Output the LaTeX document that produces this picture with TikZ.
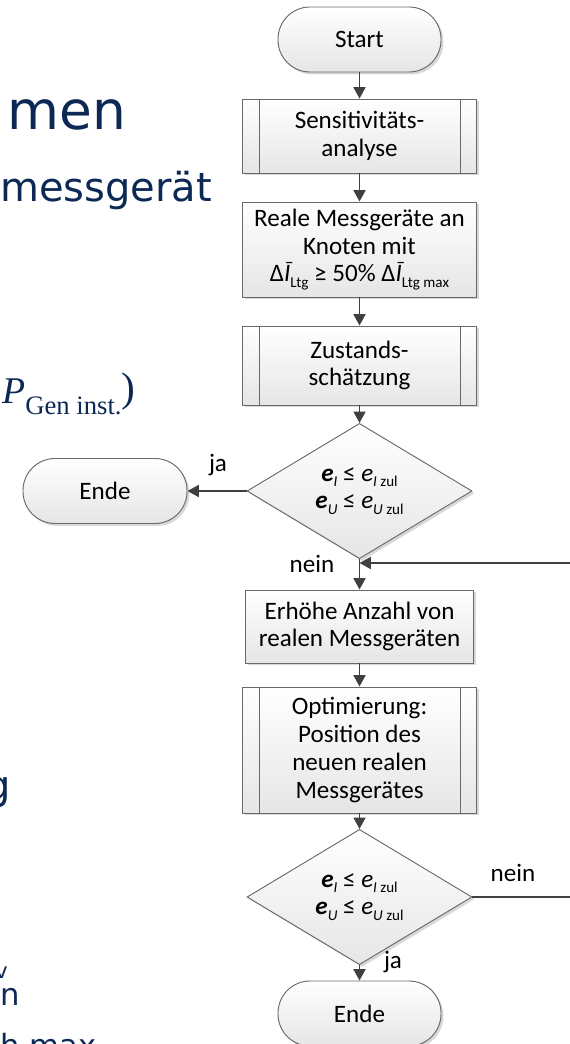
\documentclass[tikz,border=0pt]{standalone}
\usepackage{fontspec}
\setmainfont{Carlito}
\newfontfamily\slidefont{DejaVu Sans}
\newfontfamily\formulafont{Liberation Serif}
\usetikzlibrary{arrows.meta,shapes.geometric,shadows}
\definecolor{navy}{RGB}{12,40,84}
\definecolor{edge}{RGB}{105,105,105}
\definecolor{flow}{RGB}{64,64,64}
% lowered, smaller index text
\newcommand\lo[1]{\raisebox{-0.22em}{\fontsize{11.3}{11.3}\selectfont #1}}
\newcommand\ibar{{\itshape Ī}}

\begin{document}
\begin{tikzpicture}[x=0.75pt,y=-0.75pt,
  base/.style={draw=edge, line width=0.7pt, top color=white, bottom color=black!10,
    drop shadow={shadow xshift=1.8pt,shadow yshift=-1.8pt,fill=black!30,opacity=0.5},
    align=center, font=\fontsize{18.8}{20.8}\selectfont, inner sep=0pt},
  term/.style={base, rectangle, rounded corners=24pt, minimum width=122.25pt, minimum height=48.75pt},
  proc/.style={base, rectangle, minimum width=175.5pt},
  decide/.style={base, diamond, minimum width=168.75pt},
  flowline/.style={draw=flow, line width=1.3pt},
  arrow/.style={flowline, -{Triangle[length=8.5pt,width=9pt]}},
  lbl/.style={font=\fontsize{18.8}{20.8}\selectfont, inner sep=0pt},
  slide/.style={text=navy, inner sep=0pt},
]
\useasboundingbox (0,0) rectangle (569,1044);

% fragments of slide text on the left
\node[slide, anchor=base west, font=\slidefont\fontsize{40}{40}\selectfont] (t1) at (7,130) {men};
\node[slide, anchor=base west, font=\slidefont\fontsize{30}{30}\selectfont] (t2) at (0,202) {messgerät};
\node[slide, anchor=base west, font=\formulafont\fontsize{28.3}{28.3}\selectfont] (t3) at (2,403)
  {\itshape P\upshape\raisebox{-0.3em}{\fontsize{20}{20}\selectfont Gen inst.}\raisebox{0.05em}{\fontsize{31}{31}\selectfont )}};
\node[slide, anchor=base east, font=\slidefont\fontsize{30}{30}\selectfont] (t4) at (11,799) {g};
\node[slide, anchor=base east, font=\slidefont\fontsize{16}{16}\selectfont] (t5) at (8,978) {v};
\node[slide, anchor=base west, font=\slidefont\fontsize{23}{23}\selectfont] (t6) at (0,1005) {n};
\node[slide, anchor=base west, font=\slidefont\fontsize{23}{23}\selectfont] (t7) at (0,1056) {h max};

% flowchart
\node[term] (start) at (359.5,39.5) {Start};
\node[proc, minimum height=55.5pt] (sens) at (359.5,136) {Sensitivitäts-\\analyse};
\node[proc, minimum height=71.25pt] (real) at (359.5,249.5)
  {Reale Messgeräte an\\Knoten mit\\Δ\ibar\lo{Ltg} ≥ 50\% Δ\ibar\lo{Ltg max}};
\node[proc, minimum height=59.25pt] (zust) at (359.5,365.5) {Zustands-\\schätzung};
\node[decide, minimum height=91.5pt] (dec1) at (359.5,491)
  {{\bfseries\itshape e}\lo{\itshape I} ≤ {\itshape e}\lo{\itshape I\upshape\ zul}\\
   {\bfseries\itshape e}\lo{\itshape U} ≤ {\itshape e}\lo{\itshape U\upshape\ zul}};
\node[term, minimum width=123pt] (endeL) at (105,491) {Ende};
\node[proc, minimum width=171pt, minimum height=54.75pt] (more) at (359.5,626.5)
  {Erhöhe Anzahl von\\realen Messgeräten};
\node[proc, minimum height=94.5pt] (opt) at (359.5,750)
  {Optimierung:\\Position des\\neuen realen\\Messgerätes};
\node[decide, minimum height=87pt] (dec2) at (359.5,897)
  {{\bfseries\itshape e}\lo{\itshape I} ≤ {\itshape e}\lo{\itshape I\upshape\ zul}\\
   {\bfseries\itshape e}\lo{\itshape U} ≤ {\itshape e}\lo{\itshape U\upshape\ zul}};
\node[term] (endeB) at (359.5,1013.5) {Ende};

% inner bars of the predefined-process boxes
\foreach \n in {sens,zust,opt}
  \draw[draw=edge, line width=0.7pt]
    ([xshift=12.75pt]\n.north west) -- ([xshift=12.75pt]\n.south west)
    ([xshift=-12.75pt]\n.north east) -- ([xshift=-12.75pt]\n.south east);

% connectors
\coordinate (join) at (359.5,563);
\coordinate (loopR) at (590,897);
\draw[arrow] (start) -- (sens);
\draw[arrow] (sens) -- (real);
\draw[arrow] (real) -- (zust);
\draw[arrow] (zust) -- (dec1);
\draw[arrow] (dec1) -- (endeL);
\draw[arrow] (dec1) -- (more);
\draw[arrow] (more) -- (opt);
\draw[arrow] (opt) -- (dec2);
\draw[arrow] (dec2) -- (endeB);
\draw[arrow] (dec2.east) -- (loopR) |- (join);

% branch labels
\node[lbl] (ja1) at (218,465) {ja};
\node[lbl] (nein1) at (312,564) {nein};
\node[lbl] (nein2) at (513,873) {nein};
\node[lbl] (ja2) at (393,962) {ja};
\end{tikzpicture}
\end{document}
